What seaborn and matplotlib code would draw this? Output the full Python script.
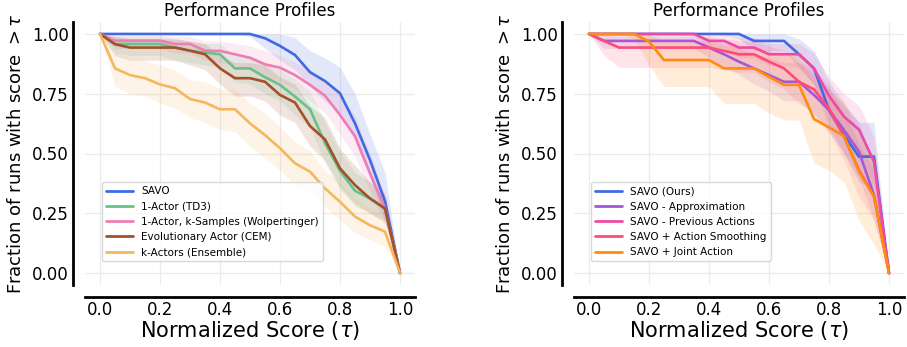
import numpy as np
import pandas as pd
import matplotlib
matplotlib.use("Agg")
import matplotlib.pyplot as plt
import seaborn as sns

# Normalized score thresholds (tau)
tau = [0.00, 0.05, 0.10, 0.15, 0.20, 0.25, 0.30, 0.35, 0.40, 0.45, 0.50,
       0.55, 0.60, 0.65, 0.70, 0.75, 0.80, 0.85, 0.90, 0.95, 1.00]

# ---- Left panel: baselines ----
savo_mean = [1.0, 1.0, 1.0, 1.0, 1.0, 1.0, 1.0, 1.0, 1.0, 1.0, 1.0,
             0.982, 0.95, 0.912, 0.84, 0.803, 0.752, 0.626, 0.473, 0.30, 0.0]
savo_lo = [1.0, 1.0, 1.0, 1.0, 1.0, 1.0, 1.0, 1.0, 1.0, 1.0, 0.99,
           0.94, 0.89, 0.85, 0.78, 0.72, 0.67, 0.55, 0.40, 0.22, 0.0]
savo_hi = [1.0, 1.0, 1.0, 1.0, 1.0, 1.0, 1.0, 1.0, 1.0, 1.0, 1.0,
           1.0, 1.0, 0.985, 0.93, 0.90, 0.86, 0.75, 0.58, 0.42, 0.0]

td3_mean = [1.0, 0.958, 0.958, 0.958, 0.958, 0.944, 0.93, 0.922, 0.915, 0.856, 0.856,
            0.819, 0.787, 0.738, 0.685, 0.543, 0.428, 0.344, 0.312, 0.27, 0.0]
td3_lo = [1.0, 0.92, 0.91, 0.91, 0.91, 0.89, 0.88, 0.87, 0.86, 0.80, 0.79,
          0.75, 0.72, 0.66, 0.61, 0.46, 0.35, 0.28, 0.25, 0.22, 0.0]
td3_hi = [1.0, 0.99, 0.99, 0.99, 0.99, 0.98, 0.97, 0.96, 0.96, 0.91, 0.91,
          0.88, 0.85, 0.81, 0.76, 0.63, 0.51, 0.42, 0.38, 0.32, 0.0]

wolp_mean = [1.0, 0.972, 0.972, 0.972, 0.972, 0.958, 0.958, 0.93, 0.929, 0.915, 0.90,
             0.873, 0.859, 0.828, 0.787, 0.742, 0.661, 0.573, 0.417, 0.27, 0.0]
wolp_lo = [1.0, 0.94, 0.94, 0.94, 0.94, 0.92, 0.92, 0.89, 0.88, 0.87, 0.85,
           0.82, 0.80, 0.77, 0.72, 0.67, 0.58, 0.49, 0.34, 0.21, 0.0]
wolp_hi = [1.0, 0.995, 0.995, 0.995, 0.995, 0.99, 0.99, 0.97, 0.97, 0.96, 0.95,
           0.93, 0.91, 0.88, 0.85, 0.81, 0.74, 0.66, 0.50, 0.33, 0.0]

cem_mean = [1.0, 0.957, 0.943, 0.943, 0.943, 0.943, 0.93, 0.915, 0.856, 0.815, 0.815,
            0.80, 0.745, 0.713, 0.615, 0.559, 0.438, 0.368, 0.312, 0.27, 0.0]
cem_lo = [1.0, 0.91, 0.89, 0.89, 0.89, 0.89, 0.87, 0.85, 0.79, 0.74, 0.74,
          0.72, 0.66, 0.63, 0.53, 0.47, 0.36, 0.29, 0.25, 0.21, 0.0]
cem_hi = [1.0, 0.99, 0.98, 0.98, 0.98, 0.98, 0.97, 0.96, 0.91, 0.88, 0.88,
          0.87, 0.82, 0.79, 0.70, 0.65, 0.52, 0.45, 0.38, 0.33, 0.0]

ens_mean = [1.0, 0.856, 0.828, 0.815, 0.789, 0.773, 0.728, 0.713, 0.685, 0.685, 0.626,
            0.577, 0.522, 0.459, 0.424, 0.354, 0.298, 0.236, 0.20, 0.173, 0.0]
ens_lo = [1.0, 0.78, 0.75, 0.74, 0.71, 0.69, 0.65, 0.63, 0.60, 0.59, 0.53,
          0.48, 0.43, 0.37, 0.34, 0.28, 0.22, 0.17, 0.14, 0.11, 0.0]
ens_hi = [1.0, 0.92, 0.90, 0.89, 0.87, 0.85, 0.81, 0.80, 0.77, 0.77, 0.71,
          0.67, 0.61, 0.55, 0.51, 0.43, 0.38, 0.31, 0.27, 0.24, 0.0]

# ---- Right panel: ablations ----
ours_mean = [1.0, 1.0, 1.0, 1.0, 1.0, 1.0, 1.0, 1.0, 1.0, 1.0, 1.0,
             0.971, 0.971, 0.971, 0.915, 0.856, 0.682, 0.577, 0.487, 0.487, 0.0]
ours_lo = [1.0, 1.0, 1.0, 1.0, 1.0, 1.0, 1.0, 1.0, 1.0, 1.0, 0.98,
           0.93, 0.93, 0.93, 0.86, 0.79, 0.61, 0.50, 0.38, 0.36, 0.0]
ours_hi = [1.0, 1.0, 1.0, 1.0, 1.0, 1.0, 1.0, 1.0, 1.0, 1.0, 1.0,
           1.0, 1.0, 1.0, 0.98, 0.93, 0.80, 0.71, 0.63, 0.63, 0.0]

approx_mean = [1.0, 0.971, 0.971, 0.971, 0.971, 0.971, 0.971, 0.971, 0.943, 0.915, 0.884,
               0.856, 0.828, 0.80, 0.80, 0.745, 0.682, 0.598, 0.508, 0.326, 0.0]
approx_lo = [1.0, 0.94, 0.94, 0.94, 0.94, 0.94, 0.94, 0.94, 0.90, 0.86, 0.83,
             0.79, 0.76, 0.72, 0.72, 0.66, 0.59, 0.50, 0.40, 0.22, 0.0]
approx_hi = [1.0, 0.995, 0.995, 0.995, 0.995, 0.995, 0.995, 0.995, 0.98, 0.96, 0.94,
             0.92, 0.90, 0.88, 0.88, 0.83, 0.77, 0.70, 0.63, 0.45, 0.0]

prev_mean = [1.0, 1.0, 1.0, 1.0, 1.0, 1.0, 1.0, 1.0, 0.971, 0.971, 0.943,
             0.943, 0.915, 0.915, 0.915, 0.856, 0.741, 0.654, 0.60, 0.466, 0.0]
prev_lo = [1.0, 1.0, 1.0, 1.0, 1.0, 1.0, 1.0, 0.99, 0.94, 0.94, 0.90,
           0.90, 0.87, 0.87, 0.86, 0.79, 0.66, 0.57, 0.51, 0.37, 0.0]
prev_hi = [1.0, 1.0, 1.0, 1.0, 1.0, 1.0, 1.0, 1.0, 1.0, 1.0, 0.985,
           0.985, 0.96, 0.96, 0.96, 0.92, 0.82, 0.75, 0.70, 0.57, 0.0]

smooth_mean = [1.0, 0.971, 0.943, 0.943, 0.943, 0.943, 0.943, 0.943, 0.943, 0.929, 0.915,
               0.915, 0.884, 0.856, 0.80, 0.768, 0.689, 0.57, 0.43, 0.32, 0.0]
smooth_lo = [1.0, 0.91, 0.86, 0.86, 0.86, 0.86, 0.86, 0.86, 0.86, 0.85, 0.84,
             0.84, 0.80, 0.77, 0.71, 0.67, 0.59, 0.47, 0.32, 0.22, 0.0]
smooth_hi = [1.0, 0.995, 0.99, 0.99, 0.99, 0.99, 0.99, 0.99, 0.99, 0.98, 0.97,
             0.97, 0.95, 0.93, 0.88, 0.86, 0.78, 0.67, 0.54, 0.43, 0.0]

joint_mean = [1.0, 1.0, 1.0, 1.0, 0.968, 0.891, 0.891, 0.891, 0.891, 0.856, 0.856,
              0.856, 0.821, 0.787, 0.787, 0.644, 0.609, 0.573, 0.424, 0.32, 0.0]
joint_lo = [1.0, 1.0, 1.0, 0.98, 0.87, 0.78, 0.78, 0.78, 0.78, 0.71, 0.71,
            0.71, 0.67, 0.64, 0.64, 0.46, 0.43, 0.38, 0.22, 0.12, 0.0]
joint_hi = [1.0, 1.0, 1.0, 1.0, 1.0, 0.97, 0.97, 0.97, 0.97, 0.95, 0.95,
            0.95, 0.93, 0.91, 0.91, 0.80, 0.76, 0.72, 0.58, 0.47, 0.0]

left_labels = ["SAVO", "1-Actor (TD3)", "1-Actor, k-Samples (Wolpertinger)",
               "Evolutionary Actor (CEM)", "k-Actors (Ensemble)"]
left_colors = ["#4169e1", "#66c28c", "#ee7db5", "#a4502a", "#f5b75e"]
left_series = [(savo_mean, savo_lo, savo_hi), (td3_mean, td3_lo, td3_hi),
               (wolp_mean, wolp_lo, wolp_hi), (cem_mean, cem_lo, cem_hi),
               (ens_mean, ens_lo, ens_hi)]

right_labels = ["SAVO (Ours)", "SAVO - Approximation", "SAVO - Previous Actions",
                "SAVO + Action Smoothing", "SAVO + Joint Action"]
right_colors = ["#4169e1", "#a855d6", "#ec4aa5", "#ff4b78", "#ff8c0a"]
right_series = [(ours_mean, ours_lo, ours_hi), (approx_mean, approx_lo, approx_hi),
                (prev_mean, prev_lo, prev_hi), (smooth_mean, smooth_lo, smooth_hi),
                (joint_mean, joint_lo, joint_hi)]

sns.set_style("white")
plt.rcParams["font.family"] = ["DejaVu Sans"]
plt.rcParams["text.color"] = "black"
plt.rcParams["axes.labelcolor"] = "black"

fig = plt.figure(figsize=(9.07, 3.47), dpi=100)
ax_l = fig.add_axes([85 / 907, 62 / 347, 330 / 907, 263 / 347])
ax_r = fig.add_axes([574 / 907, 62 / 347, 330 / 907, 263 / 347])


def draw_panel(ax, labels, colors, series):
    frames = []
    for lab, (m, lo, hi) in zip(labels, series):
        frames.append(pd.DataFrame({"tau": tau, "frac": m, "method": lab}))
    df = pd.concat(frames, ignore_index=True)
    for lab, col, (m, lo, hi) in zip(labels, colors, series):
        ax.fill_between(tau, lo, hi, color=col, alpha=0.15, linewidth=0)
    sns.lineplot(data=df, x="tau", y="frac", hue="method", hue_order=labels,
                 palette=colors, linewidth=1.9, ax=ax, legend=True)
    ax.set_xlim(-0.05, 1.05)
    ax.set_ylim(-0.05, 1.05)
    ax.set_xticks([0.0, 0.2, 0.4, 0.6, 0.8, 1.0])
    ax.set_yticks([0.0, 0.25, 0.5, 0.75, 1.0])
    ax.set_yticklabels(["0.00", "0.25", "0.50", "0.75", "1.00"])
    ax.tick_params(axis="both", labelsize=12, length=0, pad=3, colors="black")
    ax.grid(True, color="#ebebeb", linewidth=0.9)
    ax.set_axisbelow(True)
    ax.set_title("Performance Profiles", fontsize=12, pad=4, color="black")
    ax.set_xlabel(r"Normalized Score ($\tau$)", fontsize=15, labelpad=0)
    ax.set_ylabel(r"Fraction of runs with score $> \tau$", fontsize=13, labelpad=5)
    sns.despine(ax=ax, offset=8.6)
    for side in ("left", "bottom"):
        ax.spines[side].set_linewidth(2.0)
        ax.spines[side].set_color("black")
    leg = ax.legend(loc="lower left", bbox_to_anchor=(0.05, 0.09), borderaxespad=0,
                    fontsize=7.5, handlelength=2.6, labelspacing=0.5,
                    frameon=True, framealpha=0.8, edgecolor="#d0d0d0", fancybox=True)
    for t in leg.get_texts():
        t.set_color("black")
    for h in leg.get_lines():
        h.set_linewidth(2.0)


draw_panel(ax_l, left_labels, left_colors, left_series)
draw_panel(ax_r, right_labels, right_colors, right_series)

fig.savefig("out.png", dpi=100)
